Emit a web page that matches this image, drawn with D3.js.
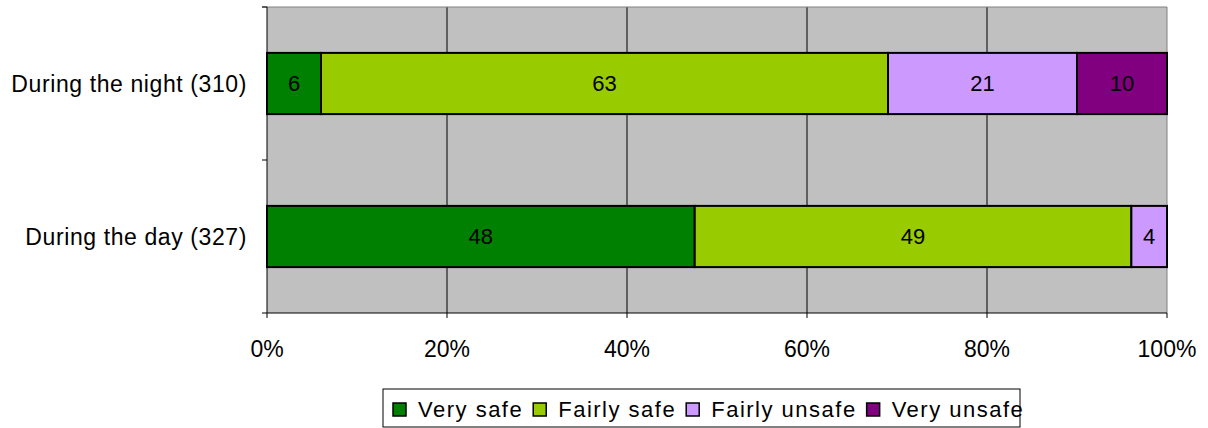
<!DOCTYPE html>
<html>
<head>
<meta charset="utf-8">
<script src="https://cdn.jsdelivr.net/npm/d3@7"></script>
<style>
  body { margin: 0; background: #fff; }
  text { font-family: "Liberation Sans", Arial, sans-serif; }
</style>
</head>
<body>
<div class="canvas"></div>
<script>
// data
const categories = ["During the night (310)", "During the day (327)"];
const seriesNames = ["Very safe", "Fairly safe", "Fairly unsafe", "Very unsafe"];
const seriesColors = ["#008000", "#99CC00", "#CC99FF", "#800080"];
const verySafe = [6, 48];
const fairlySafe = [63, 49];
const fairlyUnsafe = [21, 4];
const veryUnsafe = [10, 0];
const tickValues = [0, 0.2, 0.4, 0.6, 0.8, 1];

const svg = d3.select(".canvas")
              .append("svg")
              .attr("width", 1208)
              .attr("height", 428);

const margin = {top: 7, left: 267, right: 41, bottom: 115};
const graphWidth = 1208 - margin.left - margin.right;
const graphHeight = 428 - margin.top - margin.bottom;

const graph = svg.append("g")
                 .attr("transform", `translate(${margin.left},${margin.top})`);

// build rows and normalise to 100%
const rows = categories.map((c, i) => {
  const vals = [verySafe[i], fairlySafe[i], fairlyUnsafe[i], veryUnsafe[i]];
  const total = d3.sum(vals);
  let acc = 0;
  const segs = vals.map((v, k) => {
    const s = {cat: c, key: k, value: v, x0: acc / total, x1: (acc + v) / total};
    acc += v;
    return s;
  });
  return segs;
});

const x = d3.scaleLinear().domain([0, 1]).range([0, graphWidth]);
const y = d3.scaleBand().domain(categories).range([0, graphHeight]).paddingInner(0.6).paddingOuter(0.3);

// plot background
graph.append("rect")
     .attr("width", graphWidth)
     .attr("height", graphHeight)
     .attr("fill", "#C0C0C0");

// vertical gridlines
graph.selectAll("line.grid")
     .data(tickValues.slice(1, -1))
     .enter()
     .append("line")
     .attr("x1", d => x(d)).attr("x2", d => x(d))
     .attr("y1", 0).attr("y2", graphHeight)
     .attr("stroke", "#000").attr("stroke-width", 1);

// right / top border
graph.append("line")
     .attr("x1", graphWidth).attr("x2", graphWidth)
     .attr("y1", 0).attr("y2", graphHeight)
     .attr("stroke", "#808080");
graph.append("line")
     .attr("x1", -5).attr("x2", graphWidth)
     .attr("y1", 0).attr("y2", 0)
     .attr("stroke", "#808080");

// bars
const segs = rows.flat().filter(d => d.value > 0);
graph.selectAll("rect.bar")
     .data(segs)
     .enter()
     .append("rect")
     .attr("x", d => x(d.x0))
     .attr("y", d => y(d.cat))
     .attr("width", d => x(d.x1) - x(d.x0))
     .attr("height", y.bandwidth())
     .attr("fill", d => seriesColors[d.key])
     .attr("stroke", "#000")
     .attr("stroke-width", 2);

graph.selectAll("text.lbl")
     .data(segs)
     .enter()
     .append("text")
     .attr("x", d => (x(d.x0) + x(d.x1)) / 2)
     .attr("y", d => y(d.cat) + y.bandwidth() / 2)
     .attr("dy", "0.35em")
     .attr("text-anchor", "middle")
     .attr("font-size", 22)
     .text(d => d.value);

// y axis
const yAxis = graph.append("g");
yAxis.append("line")
     .attr("x1", 0).attr("x2", 0).attr("y1", 0).attr("y2", graphHeight)
     .attr("stroke", "#000");
yAxis.selectAll("line.tick")
     .data([0, graphHeight / 2, graphHeight])
     .enter()
     .append("line")
     .attr("x1", -5).attr("x2", 0)
     .attr("y1", d => d).attr("y2", d => d)
     .attr("stroke", "#000");
yAxis.selectAll("text")
     .data(categories)
     .enter()
     .append("text")
     .attr("x", -20)
     .attr("y", d => y(d) + y.bandwidth() / 2)
     .attr("dy", "0.35em")
     .attr("text-anchor", "end")
     .attr("font-size", 23)
     .attr("letter-spacing", "0.6px")
     .text(d => d);

// x axis
const xAxis = graph.append("g").attr("transform", `translate(0,${graphHeight})`);
xAxis.append("line")
     .attr("x1", 0).attr("x2", graphWidth)
     .attr("stroke", "#000");
xAxis.selectAll("line.tick")
     .data(tickValues)
     .enter()
     .append("line")
     .attr("x1", d => x(d)).attr("x2", d => x(d))
     .attr("y1", 0).attr("y2", 5)
     .attr("stroke", "#000");
xAxis.selectAll("text")
     .data(tickValues)
     .enter()
     .append("text")
     .attr("x", d => x(d))
     .attr("y", 36)
     .attr("dy", "0.35em")
     .attr("text-anchor", "middle")
     .attr("font-size", 23)
     .text(d => d3.format(".0%")(d));

// legend
const legend = svg.append("g").attr("transform", "translate(383,389)");
legend.append("rect")
      .attr("width", 637).attr("height", 38)
      .attr("fill", "#fff").attr("stroke", "#000");
let lx = 10;
seriesNames.forEach((name, i) => {
  const g = legend.append("g").attr("transform", `translate(${lx},0)`);
  g.append("rect")
   .attr("x", 0).attr("y", 14)
   .attr("width", 13).attr("height", 13)
   .attr("fill", seriesColors[i]).attr("stroke", "#000").attr("stroke-width", 1.5);
  const t = g.append("text")
   .attr("x", 25).attr("y", 20)
   .attr("dy", "0.35em")
   .attr("font-size", 22)
   .attr("letter-spacing", "1.5px")
   .text(name);
  lx += 25 + t.node().getComputedTextLength() + 10;
});
</script>
</body>
</html>
